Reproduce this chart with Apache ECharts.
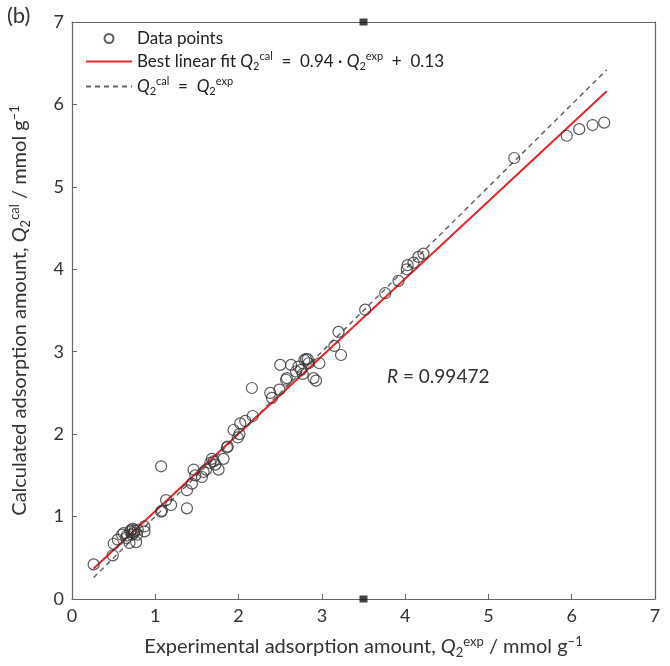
<!DOCTYPE html>
<html>
<head>
<meta charset="utf-8">
<script src="https://cdn.jsdelivr.net/npm/echarts@6/dist/echarts.min.js"></script>
<style>
  html, body { margin: 0; padding: 0; background: #fff; }
  #chart { width: 670px; height: 666px; }
</style>
</head>
<body>
<div id="chart"></div>
<script>
// experimental vs calculated Q2 (mmol/g)
var expVals = [0.26, 0.49, 0.50, 0.55, 0.60, 0.62, 0.65, 0.66, 0.69, 0.70, 0.71, 0.72, 0.73, 0.74, 0.75, 0.77, 0.78, 0.79, 0.87, 0.87,
  1.07, 1.07, 1.08, 1.13, 1.19, 1.38, 1.38, 1.44, 1.46, 1.48, 1.56, 1.58, 1.61, 1.66, 1.68, 1.70, 1.72, 1.76, 1.82, 1.86, 1.87,
  1.94, 1.99, 2.01, 2.02, 2.08, 2.16, 2.17, 2.38, 2.40, 2.49, 2.50, 2.57, 2.58, 2.63, 2.69, 2.72, 2.75, 2.77, 2.79, 2.81, 2.83,
  2.84, 2.90, 2.93, 2.97, 3.15, 3.20, 3.23, 3.52, 3.76, 3.92, 4.02, 4.03, 4.10, 4.16, 4.22, 5.31, 5.94, 6.09, 6.25, 6.39];
var calVals = [0.42, 0.53, 0.67, 0.72, 0.78, 0.80, 0.74, 0.77, 0.68, 0.82, 0.84, 0.78, 0.85, 0.80, 0.83, 0.69, 0.78, 0.84, 0.88, 0.82,
  1.61, 1.06, 1.07, 1.20, 1.14, 1.10, 1.32, 1.40, 1.57, 1.50, 1.48, 1.54, 1.57, 1.65, 1.70, 1.67, 1.63, 1.57, 1.70, 1.84, 1.85,
  2.05, 1.96, 2.00, 2.13, 2.16, 2.56, 2.22, 2.50, 2.44, 2.54, 2.84, 2.66, 2.68, 2.84, 2.76, 2.82, 2.78, 2.73, 2.90, 2.91, 2.91,
  2.86, 2.68, 2.65, 2.86, 3.07, 3.24, 2.96, 3.51, 3.71, 3.86, 4.00, 4.05, 4.08, 4.15, 4.19, 5.35, 5.62, 5.70, 5.75, 5.78];
// end points of the two lines
var fitLine = [[0.26, 0.37], [6.42, 6.16]];
var parityLine = [[0.26, 0.26], [6.42, 6.42]];
var frameMarks = [[3.5, 0], [3.5, 7]];
var rValue = '0.99472';

var FONT = 'Lato';
var points = expVals.map(function (x, i) { return [x, calVals[i]]; });

function mathRich(size, color) {
  var s = Math.round(size * 0.66);
  var off = Math.round(size * 0.5);
  return {
    n: { fontFamily: FONT, fontSize: size, color: color },
    q: { fontFamily: FONT, fontSize: size, color: color, fontStyle: 'italic' },
    sub: { fontFamily: FONT, fontSize: s, color: color, verticalAlign: 'bottom', padding: [off, 0, 0, 0] },
    sup: { fontFamily: FONT, fontSize: s, color: color, verticalAlign: 'top', padding: [0, 0, off + 1, 0] }
  };
}

var legendText = {
  'Data points': '{n|Data points}',
  'fit': '{n|Best linear fit }{q|Q}{sub|2}{sup|cal}{n|  =  0.94 · }{q|Q}{sub|2}{sup|exp}{n|  +  0.13}',
  'parity': '{q|Q}{sub|2}{sup|cal}{n|  =  }{q|Q}{sub|2}{sup|exp}'
};

var axisLineStyle = { color: '#666', width: 1.2 };

var chart = echarts.init(document.getElementById('chart'));
chart.setOption({
  animation: false,
  backgroundColor: '#fff',
  textStyle: { fontFamily: FONT },
  grid: { left: 67, right: 15, top: 22, bottom: 67 },
  legend: {
    orient: 'vertical',
    left: 80, top: 25,
    itemWidth: 46, itemHeight: 9, itemGap: 4,
    data: [
      { name: 'Data points' },
      { name: 'fit', itemStyle: { opacity: 0 } },
      { name: 'parity', itemStyle: { opacity: 0 } }
    ],
    formatter: function (name) { return legendText[name]; },
    textStyle: { rich: mathRich(17, '#222') }
  },
  xAxis: [{
    type: 'value', min: 0, max: 7, interval: 1,
    name: '{n|Experimental adsorption amount, }{q|Q}{sub|2}{sup|exp}{n| / mmol g}{sup|−1}',
    nameLocation: 'middle', nameGap: 36,
    nameTextStyle: { rich: mathRich(20, '#333') },
    axisLine: { show: true, onZero: false, lineStyle: axisLineStyle },
    axisTick: { inside: true, length: 5, lineStyle: { color: '#666' } },
    axisLabel: { fontSize: 18, color: '#333', margin: 8 },
    splitLine: { show: false }
  }, {
    type: 'value', min: 0, max: 7, position: 'top',
    axisLine: { show: true, onZero: false, lineStyle: axisLineStyle },
    axisTick: { show: false }, axisLabel: { show: false }, splitLine: { show: false }
  }],
  yAxis: [{
    type: 'value', min: 0, max: 7, interval: 1,
    name: '{n|Calculated adsorption amount, }{q|Q}{sub|2}{sup|cal}{n| / mmol g}{sup|−1}',
    nameLocation: 'middle', nameGap: 40, nameRotate: 90,
    nameTextStyle: { rich: mathRich(20, '#333') },
    axisLine: { show: true, onZero: false, lineStyle: axisLineStyle },
    axisTick: { inside: true, length: 5, lineStyle: { color: '#666' } },
    axisLabel: { fontSize: 18, color: '#333', margin: 8 },
    splitLine: { show: false }
  }, {
    type: 'value', min: 0, max: 7, position: 'right',
    axisLine: { show: true, onZero: false, lineStyle: axisLineStyle },
    axisTick: { show: false }, axisLabel: { show: false }, splitLine: { show: false }
  }],
  series: [{
    name: 'Data points',
    type: 'scatter',
    data: points,
    symbol: 'circle',
    symbolSize: 11,
    itemStyle: { color: 'rgba(0,0,0,0)', borderColor: '#333', borderWidth: 1.2 },
    z: 3
  }, {
    name: 'fit',
    type: 'line',
    data: fitLine,
    showSymbol: false,
    symbol: 'none',
    lineStyle: { color: '#e8262b', width: 2 },
    itemStyle: { color: '#e8262b' },
    z: 2
  }, {
    name: 'parity',
    type: 'line',
    data: parityLine,
    showSymbol: false,
    symbol: 'none',
    lineStyle: { color: '#666', width: 1.5, type: [5, 4] },
    itemStyle: { color: '#666' },
    z: 1
  }, {
    name: 'marks',
    type: 'scatter',
    data: frameMarks,
    symbol: 'rect',
    symbolSize: [8, 7],
    clip: false,
    itemStyle: { color: '#111' },
    z: 5
  }],
  graphic: [{
    type: 'text', left: 7, top: 5,
    style: { text: '(b)', font: '22px ' + FONT, fill: '#333' }
  }, {
    type: 'text', left: 387, top: 367,
    style: {
      text: '{q|R}{n| = ' + rValue + '}',
      rich: {
        q: { fontFamily: FONT, fontSize: 19, fontStyle: 'italic', fill: '#333' },
        n: { fontFamily: FONT, fontSize: 19, fill: '#333' }
      }
    }
  }]
});
</script>
</body>
</html>
